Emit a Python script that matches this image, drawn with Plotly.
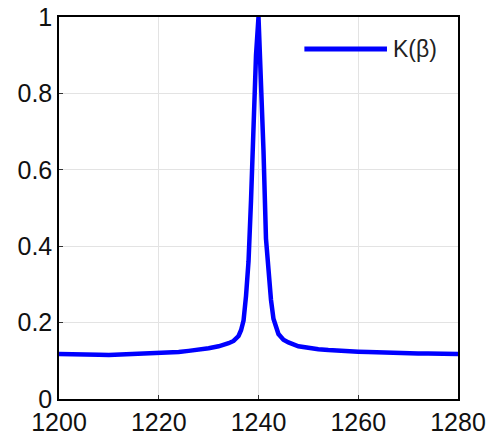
import plotly.graph_objects as go

x_vals = [1200, 1202, 1204, 1206, 1208, 1210, 1212, 1214, 1216, 1218, 1220, 1222, 1224, 1226, 1228,
          1230, 1232, 1233, 1234, 1235, 1236, 1236.5, 1237, 1237.5, 1238, 1238.5, 1239, 1239.5, 1240,
          1240.5, 1241, 1241.5, 1242, 1242.5, 1243, 1243.5, 1244, 1245, 1246, 1248, 1250, 1252, 1254,
          1256, 1258, 1260, 1262, 1264, 1266, 1268, 1270, 1272, 1274, 1276, 1278, 1280]
k_beta = [0.118, 0.118, 0.117, 0.117, 0.116, 0.115, 0.116, 0.117, 0.117, 0.118, 0.119, 0.121, 0.123, 0.126, 0.129,
          0.133, 0.138, 0.141, 0.146, 0.152, 0.165, 0.18, 0.205, 0.27, 0.36, 0.52, 0.72, 0.9, 1.0,
          0.84, 0.65, 0.42, 0.32, 0.26, 0.21, 0.185, 0.17, 0.155, 0.148, 0.138, 0.133, 0.130, 0.128,
          0.126, 0.125, 0.124, 0.123, 0.122, 0.121, 0.120, 0.118, 0.119, 0.119, 0.118, 0.118, 0.118]
x_ticks = [1200, 1220, 1240, 1260, 1280]
y_ticks = [0, 0.2, 0.4, 0.6, 0.8, 1]
y_tick_text = ["0", "0.2", "0.4", "0.6", "0.8", "1"]
legend_label = "K(β)"

fig = go.Figure()
fig.add_trace(go.Scatter(x=x_vals, y=k_beta, mode="lines", name=legend_label,
                         line=dict(color="#0000ff", width=4.5), showlegend=False))

# legend drawn manually (line sample + label)
fig.add_shape(type="line", xref="paper", yref="paper", x0=0.615, x1=0.822, y0=0.916, y1=0.916,
              line=dict(color="#0000ff", width=5))
fig.add_annotation(xref="paper", yref="paper", x=0.832, y=0.916, text=legend_label, showarrow=False,
                   xanchor="left", yanchor="middle", font=dict(size=23, color="#222222"))

axis_common = dict(showline=True, linecolor="#000000", linewidth=1.5, mirror=True,
                   showgrid=True, gridcolor="#e3e3e3", gridwidth=1, zeroline=False,
                   ticks="inside", ticklen=4, tickcolor="#333333", automargin=False,
                   tickfont=dict(family="Liberation Sans, Arial, sans-serif", size=25, color="#111111"))

fig.update_xaxes(range=[1200, 1280], tickvals=x_ticks, ticklabelstandoff=0, **axis_common)
fig.update_yaxes(range=[0, 1], tickvals=y_ticks, ticktext=y_tick_text, ticklabelstandoff=0, **axis_common)

fig.update_layout(width=489, height=434, margin=dict(l=59, r=31, t=17, b=35),
                  plot_bgcolor="white", paper_bgcolor="white",
                  font=dict(family="Liberation Sans, Arial, sans-serif"))

# remove the default 8px page margin so the figure sits at the window's top-left corner
fig.write_html("out.html", config={"displayModeBar": False},
               post_script="document.body.style.margin='0';document.body.style.overflow='hidden';")
